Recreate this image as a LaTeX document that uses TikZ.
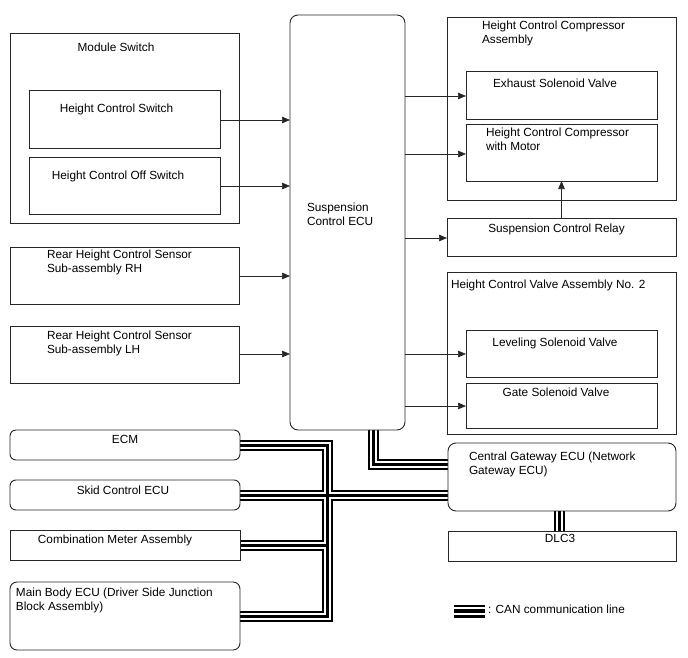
\documentclass[tikz,border=0pt]{standalone}
\usepackage{fontspec}
\setmainfont{Liberation Sans}
\usetikzlibrary{arrows.meta,backgrounds}
\begin{document}
\begin{tikzpicture}[x=1pt,y=-1pt,
  box/.style={draw=black!85, line width=0.9pt, inner sep=0pt, outer sep=0pt},
  rbox/.style={box, rounded corners=#1},
  txt/.style={inner sep=0pt, outer sep=0pt, font=\fontsize{11.8}{14}\selectfont},
  arr/.style={draw=black!85, line width=0.7pt, -{Triangle[length=8pt,width=6.5pt]}},
  canroutes/.style={insert path={
    (ecm.east) -| (327,495)
    (skid.east) -- (cgw.west |- skid.east)
    (cma.east) -| (327,495)
    (mbe.east) -| (327,495)
    (ecu.south -| 373,0) |- (cgw.west |- 0,464)
    (cgw.south -| 559,0) -- (dlc.north -| 559,0)}}
]
\useasboundingbox (0,0) rectangle (688,658);

% boxes
\node[box, minimum width=229pt, minimum height=190pt] (ms) at (124.5,128) {};
\node[box, minimum width=191pt, minimum height=58pt] (hcs) at (124.5,119) {};
\node[box, minimum width=191pt, minimum height=57pt] (hcos) at (124.5,185.5) {};
\node[rbox=8pt, minimum width=115pt, minimum height=415pt] (ecu) at (347.5,222.5) {};
\node[box, minimum width=229pt, minimum height=57pt] (rrh) at (124.5,275.5) {};
\node[box, minimum width=229pt, minimum height=57pt] (rlh) at (124.5,354.5) {};
\node[box, minimum width=229pt, minimum height=183pt] (hcca) at (561.5,108.5) {};
\node[box, minimum width=191pt, minimum height=48pt] (esv) at (561.5,95) {};
\node[box, minimum width=191pt, minimum height=57pt] (hccm) at (561.5,152.5) {};
\node[box, minimum width=229pt, minimum height=38pt] (scr) at (561.5,237) {};
\node[box, minimum width=229pt, minimum height=162pt] (hcva) at (561.5,353) {};
\node[box, minimum width=191pt, minimum height=47pt] (lsv) at (561.5,353.5) {};
\node[box, minimum width=191pt, minimum height=45pt] (gsv) at (561.5,405.5) {};
\node[rbox=6pt, minimum width=230pt, minimum height=30pt] (ecm) at (125,445) {};
\node[rbox=6pt, minimum width=230pt, minimum height=30pt] (skid) at (125,495) {};
\node[box, minimum width=230pt, minimum height=30pt] (cma) at (125,545) {};
\node[rbox=7pt, minimum width=230pt, minimum height=68pt] (mbe) at (125,616) {};
\node[rbox=8pt, minimum width=228pt, minimum height=68pt] (cgw) at (562,477) {};
\node[box, minimum width=228pt, minimum height=30pt] (dlc) at (562,546) {};

% texts
\node[txt, anchor=base] (tms) at (116,52) {Module Switch};
\node[txt, anchor=base] (thcs) at (116.5,113) {Height Control Switch};
\node[txt, anchor=base] (thcos) at (118,179) {Height Control Off Switch};
\node[txt, anchor=north west, align=left] (tecu) at (307,203.4) {Suspension\\Control ECU};
\node[txt, anchor=north west, align=left] (trrh) at (47,250.4) {Rear Height Control Sensor\\Sub-assembly RH};
\node[txt, anchor=north west, align=left] (trlh) at (47,331.4) {Rear Height Control Sensor\\Sub-assembly LH};
\node[txt, anchor=north west, align=left] (thcca) at (482,21.4) {Height Control Compressor\\Assembly};
\node[txt, anchor=base] (tesv) at (555,88) {Exhaust Solenoid Valve};
\node[txt, anchor=north west, align=left] (thccm) at (486,128.4) {Height Control Compressor\\with Motor};
\node[txt, anchor=base] (tscr) at (556.5,232) {Suspension Control Relay};
\node[txt, anchor=base west] (thcva) at (451,288) {Height Control Valve Assembly No. 2};
\node[txt, anchor=base] (tlsv) at (555,346) {Leveling Solenoid Valve};
\node[txt, anchor=base] (tgsv) at (556,396) {Gate Solenoid Valve};
\node[txt, anchor=base] (tecm) at (125,443) {ECM};
\node[txt, anchor=base] (tskid) at (123,494) {Skid Control ECU};
\node[txt, anchor=base] (tcma) at (115,543) {Combination Meter Assembly};
\node[txt, anchor=north west, align=left] (tmbe) at (16,588.4) {Main Body ECU (Driver Side Junction\\Block Assembly)};
\node[txt, anchor=north west, align=left] (tcgw) at (469,452.4) {Central Gateway ECU (Network\\Gateway ECU)};
\node[txt, anchor=base] (tdlc) at (560,542) {DLC3};
\node[txt, anchor=base west] (tlg) at (488,613) {: CAN communication line};

% arrows
\draw[arr] (hcs.east |- 0,120) -- (ecu.west |- 0,120);
\draw[arr] (hcos.east |- 0,186) -- (ecu.west |- 0,186);
\draw[arr] (rrh.east |- 0,276) -- (ecu.west |- 0,276);
\draw[arr] (rlh.east |- 0,354) -- (ecu.west |- 0,354);
\draw[arr] (ecu.east |- 0,96) -- (esv.west |- 0,96);
\draw[arr] (ecu.east |- 0,154) -- (hccm.west |- 0,154);
\draw[arr] (ecu.east |- 0,238) -- (scr.west |- 0,238);
\draw[arr] (ecu.east |- 0,354) -- (lsv.west |- 0,354);
\draw[arr] (ecu.east |- 0,406) -- (gsv.west |- 0,406);
\draw[arr] (scr.north) -- (hccm.south);

% legend
\coordinate (lg1) at (454,611);
\coordinate (lg2) at (485,611);

\begin{scope}[on background layer]
  \fill[white] (0,0) rectangle (688,658);
  \foreach \w/\c in {11/black,7/white,3/black}{
    \draw[line width=\w pt, draw=\c, line join=miter] [canroutes];
  }
  \foreach \w/\c in {13/black,8/white,3.5/black}{
    \draw[line width=\w pt, draw=\c] (lg1) -- (lg2);
  }
\end{scope}
\end{tikzpicture}
\end{document}
